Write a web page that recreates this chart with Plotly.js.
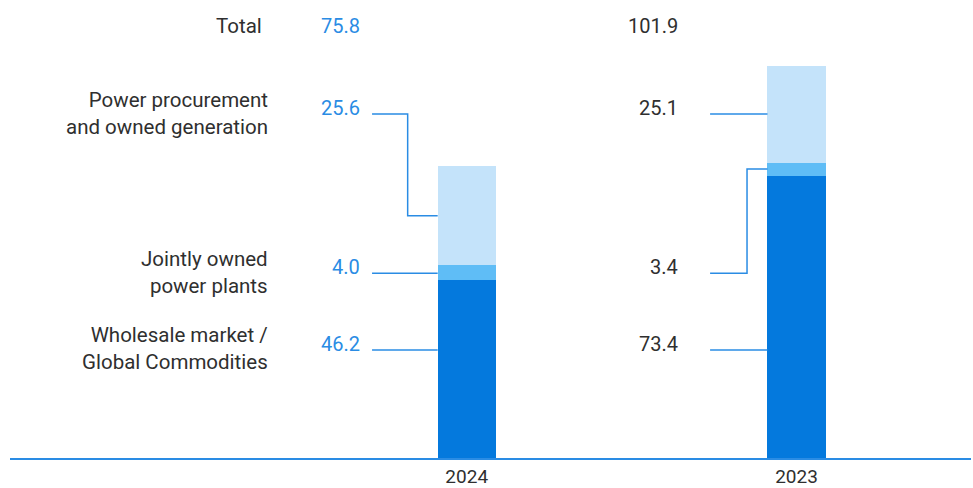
<!DOCTYPE html>
<html>
<head>
<meta charset="utf-8">
<script src="https://cdn.plot.ly/plotly-3.0.1.min.js"></script>
<style>html,body{margin:0;padding:0;background:#fff;}#chart{width:973px;height:488px;}</style>
</head>
<body>
<div id="chart"></div>
<script>
// ---- data ----
const categories = ['2024', '2023'];
const wholesale = [46.2, 73.4];
const jointly = [4.0, 3.4];
const procurement = [25.6, 25.1];
const totals = [75.8, 101.9];
const segmentLabels = [
  'Wholesale market /<br>Global Commodities',
  'Jointly owned<br>power plants',
  'Power procurement<br>and owned generation'
];
const totalLabel = 'Total';

// ---- styling / layout constants ----
const colDark = '#0479dd', colMid = '#5fbdf6', colLight = '#c4e3fa';
const lineBlue = '#2a8ce4';
const textDark = '#2f2f2f';
const valueColors = ['#2a8ce4', '#2f2f2f'];
const FONT = 'Roboto, "DejaVu Sans", sans-serif';
const FS_LABEL = 20.5;
const FS_VAL = 20;
const FS_TICK = 19;
const barWidth = 0.176;
const rowY = [28.1, 48.0, 89.4];       // label rows (wholesale, jointly, procurement), axis units
const totalRowY = 112.3;
const lineStartX = [-0.287, -0.262];  // relative to bar centre
const elbowX = [-0.179, -0.150];
const valueRightX = [-0.318, -0.352];
const catLabelX = -0.596;

const series = [wholesale, jointly, procurement];
const colors = [colDark, colMid, colLight];
const xs = categories.map((c, i) => i);

const traces = series.map((s, k) => ({
  type: 'bar', x: xs, y: s, width: barWidth,
  marker: {color: colors[k], line: {width: 0}},
  hoverinfo: 'skip', showlegend: false
}));

const annotations = [];
// leader lines
categories.forEach((c, i) => {
  let base = 0;
  series.forEach((s, k) => {
    const bottom = base, top = base + s[i];
    base = top;
    const ry = rowY[k];
    const anchorY = (ry >= bottom && ry <= top) ? ry : (bottom + top) / 2;
    const left = i - barWidth / 2;
    const xsL = [i + lineStartX[i], i + elbowX[i], i + elbowX[i], left];
    const ysL = [ry, ry, anchorY, anchorY];
    traces.push({
      type: 'scatter', mode: 'lines', x: xsL, y: ysL,
      line: {color: lineBlue, width: 1.5, shape: 'linear'},
      hoverinfo: 'skip', showlegend: false
    });
    annotations.push({
      x: i + valueRightX[i], y: ry, xref: 'x', yref: 'y',
      xanchor: 'right', yanchor: 'middle', yshift: 6,
      text: s[i].toFixed(1), showarrow: false,
      font: {family: FONT, size: FS_VAL, color: valueColors[i]}
    });
  });
  annotations.push({
    x: i + valueRightX[i], y: totalRowY, xref: 'x', yref: 'y',
    xanchor: 'right', yanchor: 'middle',
    text: totals[i].toFixed(1), showarrow: false,
    font: {family: FONT, size: FS_VAL, color: valueColors[i]}
  });
});
// category labels
segmentLabels.forEach((t, k) => {
  annotations.push({
    x: catLabelX, y: rowY[k], xref: 'x', yref: 'y',
    xanchor: 'right', yanchor: 'middle', align: 'right', yshift: 1,
    text: t, showarrow: false,
    font: {family: FONT, size: FS_LABEL, color: textDark}
  });
});
annotations.push({
  x: catLabelX - 0.02, y: totalRowY, xref: 'x', yref: 'y',
  xanchor: 'right', yanchor: 'middle',
  text: totalLabel, showarrow: false,
  font: {family: FONT, size: FS_LABEL, color: textDark}
});

const pxPerUnitX = 329.8;
const plotW = 973 - 10 - 2;
const xr0 = -(466.7 - 10) / pxPerUnitX;
const layout = {
  width: 973, height: 488,
  margin: {l: 10, r: 2, t: 0, b: 30},
  paper_bgcolor: '#fff', plot_bgcolor: '#fff',
  barmode: 'stack',
  showlegend: false,
  xaxis: {
    range: [xr0, xr0 + plotW / pxPerUnitX],
    tickmode: 'array', tickvals: xs, ticktext: categories,
    showgrid: false, zeroline: false,
    showline: true, linecolor: lineBlue, linewidth: 1.5,
    ticks: '', ticklabelstandoff: 1,
    tickfont: {family: FONT, size: FS_TICK, color: textDark},
    fixedrange: true
  },
  yaxis: {
    range: [0, 458 / 3.847],
    showgrid: false, zeroline: false, showline: false,
    showticklabels: false, ticks: '', fixedrange: true
  },
  annotations: annotations
};

Plotly.newPlot('chart', traces, layout, {displayModeBar: false, staticPlot: true});
</script>
</body>
</html>
